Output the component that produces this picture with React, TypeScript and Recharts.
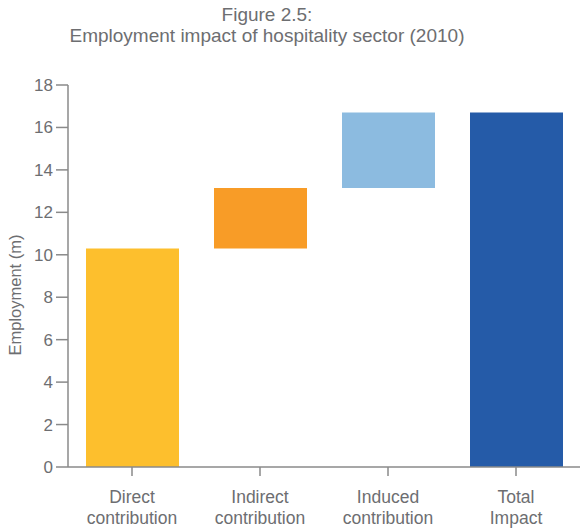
import { Bar, BarChart, Cell, Label, XAxis, YAxis } from 'recharts';

const categories = ['Direct contribution', 'Indirect contribution', 'Induced contribution', 'Total Impact'];
const baseValues = [0, 10.3, 13.15, 0];
const barValues = [10.3, 2.85, 3.55, 16.7];
const yTicks = [0, 2, 4, 6, 8, 10, 12, 14, 16, 18];

const BAR_COLORS = ['#fdbf2d', '#f89c27', '#8cbbe0', '#255ba8'];
const TEXT = '#6d6e71';
const AXIS = '#8a8a8a';
const FONT = '"Liberation Sans", Arial, sans-serif';

const data = categories.map((name, i) => ({
  name,
  base: baseValues[i],
  value: barValues[i],
}));

function CategoryTick({ x, y, payload }: any) {
  const label: string = payload.value;
  const idx = label.indexOf(' ');
  const lines = idx > 0 ? [label.slice(0, idx), label.slice(idx + 1)] : [label];
  return (
    <text x={x} y={y} textAnchor="middle" fill={TEXT} fontSize={17.5} fontFamily={FONT}>
      {lines.map((line, i) => (
        <tspan key={i} x={x} dy={i === 0 ? 25 : 21}>
          {line}
        </tspan>
      ))}
    </text>
  );
}

function YTitle({ viewBox }: any) {
  const cy = viewBox.y + viewBox.height / 2 + 19;
  return (
    <text
      x={15}
      y={cy}
      transform={`rotate(-90, 15, ${cy})`}
      textAnchor="middle"
      dominantBaseline="central"
      fill={TEXT}
      fontSize={16.5}
      fontFamily={FONT}
    >
      Employment (m)
    </text>
  );
}

export default function App() {
  return (
    <div style={{ position: 'absolute', left: 0, top: 0, width: 580, height: 528, background: '#fff' }}>
      <div
        style={{
          position: 'absolute',
          left: 0,
          top: 4,
          width: 534,
          textAlign: 'center',
          fontFamily: FONT,
          fontSize: 19,
          lineHeight: '21px',
          color: TEXT,
        }}
      >
        Figure 2.5:
        <br />
        Employment impact of hospitality sector (2010)
      </div>
      <BarChart
        width={580}
        height={528}
        data={data}
        margin={{ top: 85, right: 0, left: 0, bottom: 1 }}
        style={{ position: 'absolute', left: 0, top: 0 }}
      >
        <XAxis
          dataKey="name"
          height={60}
          interval={0}
          tick={<CategoryTick />}
          tickSize={9}
          tickMargin={2}
          axisLine={{ stroke: AXIS, strokeWidth: 1.5 }}
          tickLine={{ stroke: AXIS, strokeWidth: 1.5 }}
        />
        <YAxis
          width={68}
          domain={[0, 18]}
          ticks={yTicks}
          interval={0}
          tickSize={12}
          tickMargin={3}
          tick={{ fontSize: 17, fill: TEXT, fontFamily: FONT }}
          axisLine={{ stroke: AXIS, strokeWidth: 1.5 }}
          tickLine={{ stroke: AXIS, strokeWidth: 1.5 }}
        >
          <Label content={<YTitle />} />
        </YAxis>
        <Bar dataKey="base" stackId="w" fill="transparent" barSize={93} isAnimationActive={false} />
        <Bar dataKey="value" stackId="w" barSize={93} isAnimationActive={false}>
          {data.map((_, i) => (
            <Cell key={i} fill={BAR_COLORS[i]} />
          ))}
        </Bar>
      </BarChart>
    </div>
  );
}
